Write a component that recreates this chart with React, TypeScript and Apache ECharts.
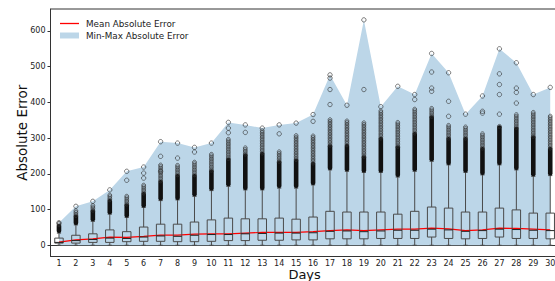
import React, { useEffect, useRef } from 'react';
import * as echarts from 'echarts';

const days = ['1', '2', '3', '4', '5', '6', '7', '8', '9', '10', '11', '12', '13', '14', '15',
  '16', '17', '18', '19', '20', '21', '22', '23', '24', '25', '26', '27', '28', '29', '30'];
const meanErr = [9, 15, 18, 23, 22, 25, 28.5, 28.5, 31, 32, 32, 34, 36, 36, 36, 38, 41, 43, 41, 43, 45, 45, 48, 46, 41, 43, 48, 47, 45, 43];
const minErr = [0, 0, 0, 0, 0, 0, 0, 0, 0, 0, 0, 0, 0, 0, 0, 0, 0, 0, 0, 0, 0, 0, 0, 0, 0, 0, 0, 0, 0, 0];
const maxErr = [63, 109, 123, 155, 207, 219, 290, 286, 274, 286, 344, 337, 328, 337, 342, 366, 477, 392, 631, 388, 445, 422, 537, 483, 367, 418, 550, 511, 422, 442];
const q1 = [6, 6, 8, 8, 10, 11, 11, 10, 10, 11, 13, 13, 14, 14, 15, 15, 18, 18, 18, 19, 19, 19, 23, 19, 18, 19, 23, 19, 19, 18];
const median = [8, 13, 16, 20, 19, 23, 26, 25, 28, 30, 30, 32, 33, 34, 34, 35, 39, 40, 38, 40, 42, 42, 45, 43, 39, 41, 45, 44, 42, 41];
const q3 = [20, 28, 32, 43, 38, 51, 59, 59, 65, 71, 76, 74, 74, 76, 73, 79, 95, 93, 93, 93, 87, 95, 107, 104, 93, 93, 104, 99, 90, 90];
const whiskerHi = [34, 57, 67, 87, 78, 106, 125, 127, 137, 153, 165, 155, 155, 160, 160, 169, 211, 207, 204, 204, 191, 207, 235, 225, 204, 197, 225, 211, 193, 195];
// outliers: solid (dense) run, stacked run, and single points
const solidHi = [57, 83, 98, 127, 115, 146, 180, 197, 197, 210, 243, 255, 258, 235, 240, 230, 280, 281, 249, 300, 277, 314, 361, 300, 300, 272, 333, 330, 305, 272];
const stackHi = [63, 99, 112, 141, 141, 169, 225, 225, 235, 258, 300, 277, 322, 265, 310, 310, 356, 351, 347, 380, 347, 384, 384, 338, 333, 314, 333, 366, 375, 366];
const sparseOutliers: number[][] = [
  [], [], [], [], [182], [188, 202], [207, 249], [244], [261], [],
  [315, 328], [316], [], [312], [], [347], [394, 436, 468], [], [436], [],
  [], [408], [431, 440, 485], [361, 403], [], [370, 375], [367, 422, 450, 480], [398, 428, 440], [], [],
];
const yTicks = [0, 100, 200, 300, 400, 500, 600];

const FONT = 'DejaVu Sans';
const EDGE = '#4a4a4a';

export default function App() {
  const ref = useRef<HTMLDivElement>(null);
  useEffect(() => {
    const chart = echarts.init(ref.current!, null, { renderer: 'svg' });
    const boxData = days.map((_, i) => [i, minErr[i], q1[i], median[i], q3[i], whiskerHi[i]]);
    const solidData = days.map((_, i) => [i, whiskerHi[i], solidHi[i]]);
    const stackData = days.map((_, i) => [i, solidHi[i], stackHi[i]]);
    const pts: number[][] = [];
    sparseOutliers.forEach((arr, i) => arr.forEach((v) => pts.push([i, v])));
    maxErr.forEach((v, i) => pts.push([i, v]));

    chart.setOption({
      animation: false,
      grid: {
        left: 50.5, top: 9, right: 6.3, bottom: 24.5,
        show: true, borderColor: '#333', borderWidth: 1,
        outerBoundsMode: 'none',
      },
      legend: {
        orient: 'vertical', left: 55, top: 14, itemWidth: 19, itemHeight: 6, itemGap: 3,
        textStyle: { fontFamily: FONT, fontSize: 8.8, color: '#222', padding: [0, 0, 0, 2] },
        data: [
          { name: 'Mean Absolute Error', icon: 'path://M0,0H19V1.3H0Z', itemStyle: { color: 'red' } },
          { name: 'Min-Max Absolute Error', icon: 'rect' },
        ],
      },
      xAxis: {
        type: 'category', data: days, boundaryGap: true,
        name: 'Days', nameLocation: 'middle', nameGap: 11.5, nameMoveOverlap: false,
        nameTextStyle: { fontFamily: FONT, fontSize: 13, color: '#111', lineHeight: 13 },
        axisLine: { lineStyle: { color: '#333', width: 1 } },
        axisTick: { alignWithLabel: true, length: 3, interval: 0, lineStyle: { color: '#333' } },
        axisLabel: { interval: 0, fontFamily: FONT, fontSize: 8, color: '#222', margin: 3, lineHeight: 8 },
        splitLine: { show: false },
      },
      yAxis: {
        type: 'value', min: -31.5, max: 661.5,
        name: 'Absolute Error', nameLocation: 'middle', nameGap: 22, nameMoveOverlap: false,
        nameTextStyle: { fontFamily: FONT, fontSize: 13.5, color: '#111' },
        axisLine: { show: true, lineStyle: { color: '#333', width: 1 } },
        axisTick: { show: true, length: 3, customValues: yTicks, lineStyle: { color: '#333' } },
        axisLabel: { customValues: yTicks, fontFamily: FONT, fontSize: 8, color: '#222', margin: 5 },
        splitLine: { show: false },
      },
      series: [
        {
          name: 'Min-Max Absolute Error', type: 'line', data: maxErr, symbol: 'none',
          color: '#bcd6e8', itemStyle: { color: '#bcd6e8' },
          lineStyle: { width: 0, opacity: 0 }, areaStyle: { color: '#bcd6e8', opacity: 1 }, z: 1,
        },
        {
          name: 'Mean Absolute Error', type: 'line', data: meanErr, symbol: 'none',
          color: 'red', lineStyle: { color: 'red', width: 1.2 }, z: 3,
        },
        {
          name: 'boxes', type: 'custom', data: boxData, z: 4,
          renderItem: (params: any, api: any) => {
            const i = api.value(0);
            const w = api.size([1, 0])[0];
            const hw = w * 0.25, cw = w * 0.125;
            const [cx, yLo] = api.coord([i, api.value(1)]);
            const yA = api.coord([i, api.value(2)])[1];
            const yM = api.coord([i, api.value(3)])[1];
            const yB = api.coord([i, api.value(4)])[1];
            const yHi = api.coord([i, api.value(5)])[1];
            const st = { stroke: EDGE, lineWidth: 1, fill: 'transparent' };
            return {
              type: 'group',
              children: [
                { type: 'line', shape: { x1: cx, y1: yLo, x2: cx, y2: yA }, style: st },
                { type: 'line', shape: { x1: cx, y1: yB, x2: cx, y2: yHi }, style: st },
                { type: 'line', shape: { x1: cx - cw, y1: yLo, x2: cx + cw, y2: yLo }, style: st },
                { type: 'line', shape: { x1: cx - cw, y1: yHi, x2: cx + cw, y2: yHi }, style: st },
                { type: 'rect', shape: { x: cx - hw, y: yB, width: 2 * hw, height: yA - yB }, style: st },
                { type: 'line', shape: { x1: cx - hw, y1: yM, x2: cx + hw, y2: yM }, style: { stroke: '#222', lineWidth: 1 } },
              ],
            };
          },
        },
        {
          name: 'solid', type: 'custom', data: solidData, z: 5,
          renderItem: (params: any, api: any) => {
            const i = api.value(0);
            const [cx, y1] = api.coord([i, api.value(1)]);
            const y2 = api.coord([i, api.value(2)])[1];
            return { type: 'rect', shape: { x: cx - 2.3, y: y2 - 1, width: 4.6, height: y1 - y2 + 1, r: 2 }, style: { fill: '#111' } };
          },
        },
        {
          name: 'stacked', type: 'custom', data: stackData, z: 5,
          renderItem: (params: any, api: any) => {
            const i = api.value(0);
            const [cx, y1] = api.coord([i, api.value(1)]);
            const y2 = api.coord([i, api.value(2)])[1];
            const children: any[] = [];
            for (let y = y1; y >= y2; y -= 1.6) {
              children.push({ type: 'circle', shape: { cx, cy: y, r: 1.9 }, style: { fill: 'transparent', stroke: '#333', lineWidth: 0.7 } });
            }
            return { type: 'group', children };
          },
        },
        {
          name: 'outliers', type: 'scatter', data: pts, symbol: 'circle', symbolSize: 4.4, z: 6,
          itemStyle: { color: 'rgba(0,0,0,0)', borderColor: '#333', borderWidth: 0.8 },
        },
      ],
    });
    return () => chart.dispose();
  }, []);
  return (
    <div style={{ position: 'absolute', left: 0, top: 0, width: 555, height: 281, overflow: 'hidden', background: '#fff' }}>
      <div ref={ref} style={{ width: 565, height: 281 }} />
    </div>
  );
}
